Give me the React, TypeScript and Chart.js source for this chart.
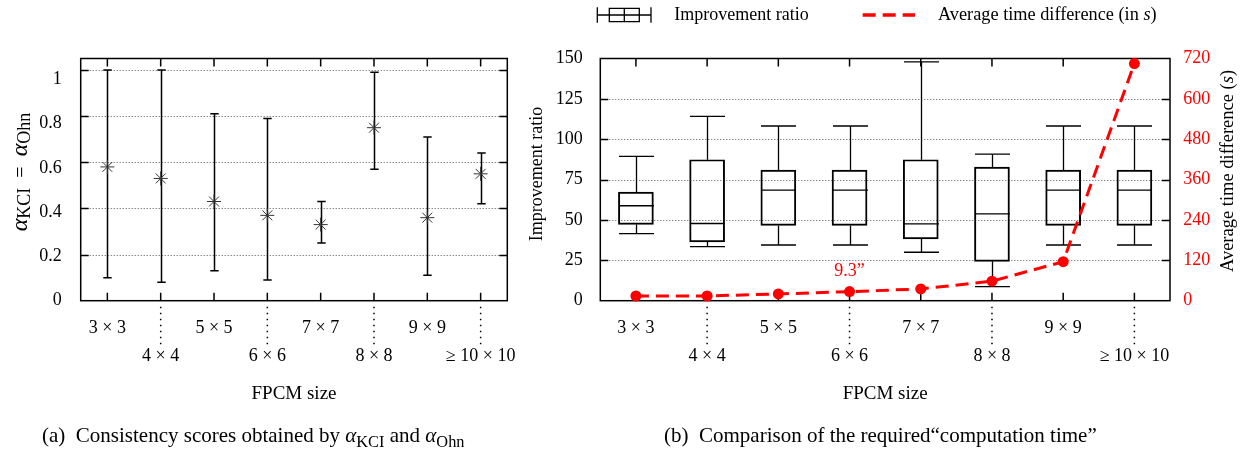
import React, { useEffect, useRef } from 'react';
import { Chart, registerables } from 'chart.js';

Chart.register(...registerables);

const FONT = "'Liberation Serif', 'Times New Roman', serif";

// ---------- data ----------
const categories = ['3 × 3', '4 × 4', '5 × 5', '6 × 6', '7 × 7', '8 × 8', '9 × 9', '≥ 10 × 10'];

// (a) consistency scores
const alphaMean = [0.58, 0.53, 0.43, 0.37, 0.33, 0.75, 0.36, 0.55];
const alphaLow = [0.10, 0.08, 0.13, 0.09, 0.25, 0.57, 0.11, 0.42];
const alphaHigh = [1.0, 1.0, 0.81, 0.79, 0.43, 0.99, 0.71, 0.64];
const alphaTicks = [0, 0.2, 0.4, 0.6, 0.8, 1];

// (b) improvement ratio box plots
const ratioWhiskerLow = [41.5, 33.5, 34.5, 34.5, 30, 8.7, 34.5, 34.5];
const ratioQ1 = [47.2, 36.4, 46.6, 46.6, 38.3, 24.4, 46.6, 46.6];
const ratioMedian = [58.8, 47.8, 68.5, 68.5, 47.6, 53.8, 68.5, 68.5];
const ratioQ3 = [67.2, 87.3, 80.9, 80.9, 87.3, 82.8, 80.9, 80.9];
const ratioWhiskerHigh = [89.4, 114.2, 108.2, 108.2, 147.9, 90.8, 108.2, 108.2];
const ratioTicks = [0, 25, 50, 75, 100, 125, 150];

// (b) average time difference (seconds)
const timeDiff = [14, 14, 20, 27, 35, 58, 116, 705];
const timeTicks = [0, 120, 240, 360, 480, 600, 720];

const annotationText = '9.3”';
const annotationIndex = 3;
const annotationValue = 88;

// ---------- helpers ----------
type Part = { text: string; font: string; dy?: number; color?: string };

function drawRotatedRich(ctx: CanvasRenderingContext2D, baseX: number, centerY: number, parts: Part[]) {
  ctx.save();
  ctx.translate(baseX, centerY);
  ctx.rotate(-Math.PI / 2);
  ctx.textBaseline = 'alphabetic';
  ctx.textAlign = 'left';
  let total = 0;
  const widths = parts.map((p) => {
    ctx.font = p.font;
    const w = ctx.measureText(p.text).width;
    total += w;
    return w;
  });
  let x = -total / 2;
  parts.forEach((p, i) => {
    ctx.font = p.font;
    ctx.fillStyle = p.color || '#000';
    ctx.fillText(p.text, x, p.dy || 0);
    x += widths[i];
  });
  ctx.restore();
}

function drawRich(ctx: CanvasRenderingContext2D, x0: number, y: number, parts: Part[]) {
  ctx.save();
  ctx.textBaseline = 'middle';
  ctx.textAlign = 'left';
  let x = x0;
  parts.forEach((p) => {
    ctx.font = p.font;
    ctx.fillStyle = p.color || '#000';
    ctx.fillText(p.text, x, y + (p.dy || 0));
    x += ctx.measureText(p.text).width;
  });
  ctx.restore();
}

function drawGrid(chart: any, yScale: any, ticks: number[]) {
  const { ctx, chartArea: a } = chart;
  ctx.save();
  ctx.strokeStyle = '#555';
  ctx.lineWidth = 1;
  ctx.setLineDash([1, 2]);
  ctx.beginPath();
  ticks.forEach((v) => {
    const py = Math.round(yScale.getPixelForValue(v)) + 0.5;
    if (py <= a.top + 1 || py >= a.bottom - 1) return;
    ctx.moveTo(a.left, py);
    ctx.lineTo(a.right, py);
  });
  ctx.stroke();
  ctx.restore();
}

function drawFrame(chart: any, yScale: any, ticks: number[]) {
  const { ctx, chartArea: a, scales } = chart;
  const x = scales.x;
  const TL = 8;
  ctx.save();
  ctx.strokeStyle = '#000';
  ctx.lineWidth = 1.5;
  ctx.setLineDash([]);
  ctx.strokeRect(a.left, a.top, a.right - a.left, a.bottom - a.top);
  ctx.beginPath();
  ticks.forEach((v) => {
    const py = Math.round(yScale.getPixelForValue(v)) + 0.5;
    if (py <= a.top + 1 || py >= a.bottom - 1) return;
    ctx.moveTo(a.left, py);
    ctx.lineTo(a.left + TL, py);
    ctx.moveTo(a.right, py);
    ctx.lineTo(a.right - TL, py);
  });
  for (let i = 0; i < categories.length; i++) {
    const px = x.getPixelForValue(i);
    ctx.moveTo(px, a.bottom);
    ctx.lineTo(px, a.bottom - TL);
    ctx.moveTo(px, a.top);
    ctx.lineTo(px, a.top + TL);
  }
  ctx.stroke();
  // dotted leaders for the lower row of labels
  ctx.setLineDash([1.5, 4.5]);
  ctx.beginPath();
  for (let i = 1; i < categories.length; i += 2) {
    const px = x.getPixelForValue(i);
    ctx.moveTo(px, a.bottom + 6);
    ctx.lineTo(px, a.bottom + 44);
  }
  ctx.stroke();
  ctx.restore();
}

const xTickCallback = (_v: any, index: number) =>
  index % 2 === 0 ? categories[index] : ['', categories[index]];

function xScaleOptions() {
  return {
    type: 'category' as const,
    offset: true,
    grid: { display: false, drawTicks: false },
    border: { display: false },
    ticks: {
      autoSkip: false,
      maxRotation: 0,
      minRotation: 0,
      padding: 14,
      color: '#000',
      font: { family: FONT, size: 18, lineHeight: 1.528 },
      callback: xTickCallback,
    },
    title: {
      display: true,
      text: 'FPCM size',
      color: '#000',
      font: { family: FONT, size: 19, lineHeight: 1.2 },
      padding: { top: 0, bottom: 45.6 },
    },
    afterFit: (s: any) => {
      s.height = 451 - 300.7;
    },
  };
}

// ---------- left chart ----------
function leftConfig(): any {
  const decor = {
    id: 'leftDecor',
    beforeDatasetsDraw(chart: any) {
      const { ctx, scales } = chart;
      const y = scales.y;
      const x = scales.x;
      drawGrid(chart, y, alphaTicks);
      ctx.save();
      ctx.strokeStyle = '#000';
      ctx.lineWidth = 1.5;
      ctx.beginPath();
      for (let i = 0; i < categories.length; i++) {
        const px = Math.round(x.getPixelForValue(i)) + 0.5;
        const lo = y.getPixelForValue(alphaLow[i]);
        const hi = y.getPixelForValue(alphaHigh[i]);
        ctx.moveTo(px, lo);
        ctx.lineTo(px, hi);
        ctx.moveTo(px - 4.2, lo);
        ctx.lineTo(px + 4.2, lo);
        ctx.moveTo(px - 4.2, hi);
        ctx.lineTo(px + 4.2, hi);
      }
      ctx.stroke();
      ctx.restore();
      drawFrame(chart, y, alphaTicks);
    },
    afterDraw(chart: any) {
      const { ctx } = chart;
      drawRotatedRich(ctx, 27, 172, [
        { text: 'α', font: `italic 24px ${FONT}` },
        { text: 'KCI', font: `18px ${FONT}`, dy: 3 },
        { text: '  =  ', font: `20px ${FONT}` },
        { text: 'α', font: `italic 24px ${FONT}` },
        { text: 'Ohn', font: `18px ${FONT}`, dy: 3 },
      ]);
    },
  };

  return {
    type: 'line',
    data: {
      labels: categories,
      datasets: [
        {
          label: 'alpha',
          data: alphaMean,
          yAxisID: 'y',
          showLine: false,
          pointStyle: 'star',
          pointRadius: 7,
          pointBorderColor: '#333',
          pointBorderWidth: 1,
          pointBackgroundColor: 'rgba(0,0,0,0)',
          clip: false,
        },
      ],
    },
    options: {
      responsive: false,
      animation: false,
      events: [],
      layout: { padding: { top: 58.5, right: 32.7, bottom: 0, left: 0 } },
      plugins: { legend: { display: false }, tooltip: { enabled: false } },
      scales: {
        x: xScaleOptions(),
        y: { display: false, min: 0, max: 1.05 },
        yl: {
          position: 'left',
          min: 0,
          max: 1.094,
          grid: { display: false, drawTicks: false },
          border: { display: false },
          ticks: {
            stepSize: 0.2,
            includeBounds: false,
            padding: 19,
            color: '#000',
            font: { family: FONT, size: 18 },
            callback: (v: number) => String(Math.round(v * 10) / 10),
          },
          afterFit: (s: any) => {
            s.width = 80.7;
          },
        },
      },
    },
    plugins: [decor],
  };
}

// ---------- right chart ----------
function rightConfig(): any {
  const decor = {
    id: 'rightDecor',
    beforeDatasetsDraw(chart: any) {
      const { ctx, scales } = chart;
      const y = scales.y;
      const x = scales.x;
      drawGrid(chart, y, ratioTicks);
      ctx.save();
      ctx.strokeStyle = '#000';
      ctx.lineWidth = 1.3;
      ctx.beginPath();
      const hw = 17.5;
      for (let i = 0; i < categories.length; i++) {
        const px = Math.round(x.getPixelForValue(i)) + 0.5;
        const wl = y.getPixelForValue(ratioWhiskerLow[i]);
        const q1 = y.getPixelForValue(ratioQ1[i]);
        const q3 = y.getPixelForValue(ratioQ3[i]);
        const wh = y.getPixelForValue(ratioWhiskerHigh[i]);
        const md = y.getPixelForValue(ratioMedian[i]);
        ctx.moveTo(px, wl);
        ctx.lineTo(px, q1);
        ctx.moveTo(px, q3);
        ctx.lineTo(px, wh);
        ctx.moveTo(px - hw, wl);
        ctx.lineTo(px + hw, wl);
        ctx.moveTo(px - hw, wh);
        ctx.lineTo(px + hw, wh);
        ctx.moveTo(px - hw, md);
        ctx.lineTo(px + hw, md);
      }
      ctx.stroke();
      ctx.restore();
      drawFrame(chart, y, ratioTicks);
    },
    afterDraw(chart: any) {
      const { ctx, scales } = chart;
      // axis titles
      drawRotatedRich(ctx, 21.5, 174, [{ text: 'Improvement ratio', font: `18px ${FONT}` }]);
      drawRotatedRich(ctx, 712.5, 171, [
        { text: 'Average time difference (', font: `18.5px ${FONT}` },
        { text: 's', font: `italic 18.5px ${FONT}` },
        { text: ')', font: `18.5px ${FONT}` },
      ]);
      // annotation
      ctx.save();
      ctx.fillStyle = '#ff0000';
      ctx.font = `18px ${FONT}`;
      ctx.textAlign = 'center';
      ctx.textBaseline = 'middle';
      ctx.fillText(
        annotationText,
        scales.x.getPixelForValue(annotationIndex),
        scales.y1.getPixelForValue(annotationValue)
      );
      ctx.restore();
      // legend
      ctx.save();
      ctx.strokeStyle = '#000';
      ctx.lineWidth = 1.3;
      ctx.beginPath();
      const ly = 15;
      ctx.moveTo(77.3, 7.3);
      ctx.lineTo(77.3, 22.7);
      ctx.moveTo(131, 7.3);
      ctx.lineTo(131, 22.7);
      ctx.moveTo(77.3, ly);
      ctx.lineTo(89.3, ly);
      ctx.moveTo(119.3, ly);
      ctx.lineTo(131, ly);
      ctx.moveTo(89.3, ly);
      ctx.lineTo(119.3, ly);
      ctx.moveTo(104.3, 8.3);
      ctx.lineTo(104.3, 21.7);
      ctx.rect(89.3, 8.3, 30, 13.4);
      ctx.stroke();
      ctx.strokeStyle = '#ff0000';
      ctx.lineWidth = 3.5;
      ctx.setLineDash([13, 7]);
      ctx.beginPath();
      ctx.moveTo(342.7, ly);
      ctx.lineTo(395, ly);
      ctx.stroke();
      ctx.restore();
      drawRich(ctx, 154.3, ly, [{ text: 'Improvement ratio', font: `18px ${FONT}` }]);
      drawRich(ctx, 418, ly, [
        { text: 'Average time difference (in ', font: `18.3px ${FONT}` },
        { text: 's', font: `italic 18.3px ${FONT}` },
        { text: ')', font: `18.3px ${FONT}` },
      ]);
    },
  };

  return {
    type: 'bar',
    data: {
      labels: categories,
      datasets: [
        {
          type: 'line',
          label: 'Average time difference (in s)',
          data: timeDiff,
          yAxisID: 'y1',
          borderColor: '#ff0000',
          borderWidth: 3,
          borderDash: [13, 7],
          pointRadius: 5.5,
          pointBackgroundColor: '#ff0000',
          pointBorderColor: '#ff0000',
          pointBorderWidth: 0,
          tension: 0,
          fill: false,
          order: 0,
          clip: false,
        },
        {
          type: 'bar',
          label: 'Improvement ratio',
          data: ratioQ1.map((q, i) => [q, ratioQ3[i]]),
          yAxisID: 'y',
          backgroundColor: 'rgba(0,0,0,0)',
          borderColor: '#000',
          borderWidth: 1.3,
          borderSkipped: false,
          barThickness: 35,
          order: 1,
        },
      ],
    },
    options: {
      responsive: false,
      animation: false,
      events: [],
      layout: { padding: { top: 58.5, right: 0, bottom: 0, left: 0 } },
      plugins: { legend: { display: false }, tooltip: { enabled: false } },
      scales: {
        x: xScaleOptions(),
        y: {
          position: 'left',
          min: 0,
          max: 150,
          grid: { display: false, drawTicks: false },
          border: { display: false },
          ticks: { stepSize: 25, padding: 17.6, color: '#000', font: { family: FONT, size: 18 } },
          afterFit: (s: any) => {
            s.width = 80.3;
          },
        },
        y1: {
          position: 'right',
          min: 0,
          max: 720,
          grid: { display: false, drawTicks: false },
          border: { display: false },
          ticks: { stepSize: 120, padding: 13.3, color: '#ff0000', font: { family: FONT, size: 18 } },
          afterFit: (s: any) => {
            s.width = 80;
          },
        },
      },
    },
    plugins: [decor],
  };
}

const subStyle: React.CSSProperties = { fontSize: '0.78em', verticalAlign: '-0.28em', lineHeight: 0 };

export default function App() {
  const leftRef = useRef<HTMLCanvasElement>(null);
  const rightRef = useRef<HTMLCanvasElement>(null);

  useEffect(() => {
    const left = new Chart(leftRef.current as HTMLCanvasElement, leftConfig());
    const right = new Chart(rightRef.current as HTMLCanvasElement, rightConfig());
    return () => {
      left.destroy();
      right.destroy();
    };
  }, []);

  return (
    <div
      style={{
        position: 'absolute',
        left: 0,
        top: 0,
        width: 1250,
        height: 451,
        background: '#fff',
        fontFamily: FONT,
        color: '#000',
        overflow: 'hidden',
      }}
    >
      <canvas
        ref={leftRef}
        width={540}
        height={451}
        style={{ position: 'absolute', left: 0, top: 0, width: 540, height: 451 }}
      />
      <canvas
        ref={rightRef}
        width={730}
        height={451}
        style={{ position: 'absolute', left: 520, top: 0, width: 730, height: 451 }}
      />
      <div style={{ position: 'absolute', left: 42, top: 422, fontSize: 21, lineHeight: '26px', whiteSpace: 'nowrap' }}>
        (a)&nbsp; Consistency scores obtained by <i>α</i>
        <span style={subStyle}>KCI</span> and <i>α</i>
        <span style={subStyle}>Ohn</span>
      </div>
      <div style={{ position: 'absolute', left: 664, top: 422, fontSize: 21, lineHeight: '26px', whiteSpace: 'nowrap' }}>
        (b)&nbsp; Comparison of the required“computation time”
      </div>
    </div>
  );
}
